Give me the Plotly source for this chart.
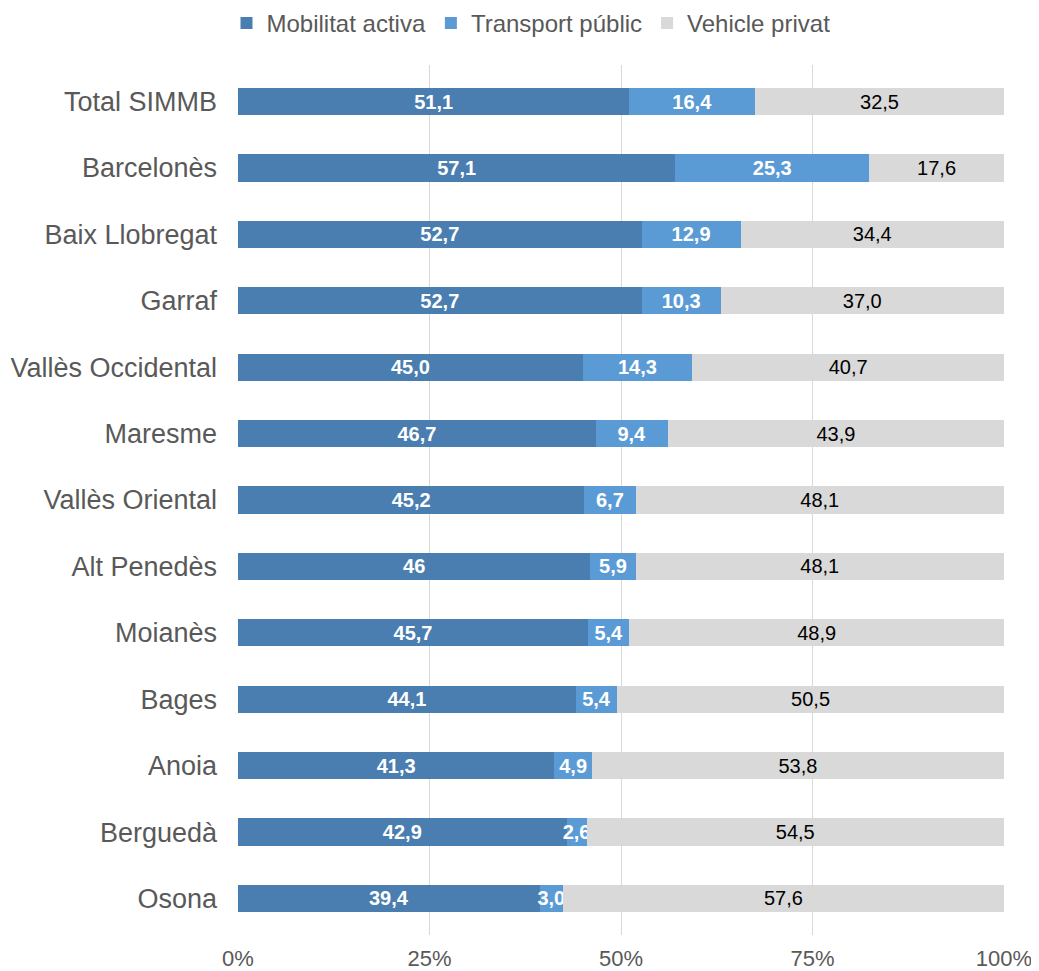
import plotly.graph_objects as go

categories = ["Total SIMMB", "Barcelonès", "Baix Llobregat", "Garraf", "Vallès Occidental",
              "Maresme", "Vallès Oriental", "Alt Penedès", "Moianès", "Bages", "Anoia",
              "Berguedà", "Osona"]
mobilitat_activa = [51.1, 57.1, 52.7, 52.7, 45.0, 46.7, 45.2, 46.0, 45.7, 44.1, 41.3, 42.9, 39.4]
transport_public = [16.4, 25.3, 12.9, 10.3, 14.3, 9.4, 6.7, 5.9, 5.4, 5.4, 4.9, 2.6, 3.0]
vehicle_privat = [32.5, 17.6, 34.4, 37.0, 40.7, 43.9, 48.1, 48.1, 48.9, 50.5, 53.8, 54.5, 57.6]
labels_activa = ["51,1", "57,1", "52,7", "52,7", "45,0", "46,7", "45,2", "46", "45,7", "44,1", "41,3", "42,9", "39,4"]
labels_public = ["16,4", "25,3", "12,9", "10,3", "14,3", "9,4", "6,7", "5,9", "5,4", "5,4", "4,9", "2,6", "3,0"]
labels_privat = ["32,5", "17,6", "34,4", "37,0", "40,7", "43,9", "48,1", "48,1", "48,9", "50,5", "53,8", "54,5", "57,6"]
x_ticks = [0, 25, 50, 75, 100]
x_tick_labels = ["0%", "25%", "50%", "75%", "100%"]

FONT = "Liberation Sans, Arial, sans-serif"

fig = go.Figure()
series = [
    ("Mobilitat activa", mobilitat_activa, labels_activa, "#4A7EB0", "white"),
    ("Transport públic", transport_public, labels_public, "#5B9BD5", "white"),
    ("Vehicle privat", vehicle_privat, labels_privat, "#D9D9D9", "black"),
]
for name, vals, labs, col, tcol in series:
    fig.add_trace(go.Bar(
        name=name, y=categories, x=vals, orientation="h",
        marker=dict(color=col, line=dict(width=0)),
        text=labs, textposition="inside", insidetextanchor="middle",
        textangle=0, constraintext="none",
        textfont=dict(family=FONT, size=20, color=tcol,
                      weight="bold" if tcol == "white" else "normal"),
        hoverinfo="skip",
    ))

# page body has an 8px margin, so the figure is sized/offset accordingly
fig.update_layout(
    barmode="stack",
    bargap=0.59,
    width=1031, height=963,
    margin=dict(l=230, r=35, t=57, b=36),
    paper_bgcolor="white", plot_bgcolor="white",
    font=dict(family=FONT, color="#595959"),
    legend=dict(orientation="h", x=0.3825, xanchor="center", xref="paper",
                y=0.984, yanchor="middle", yref="container",
                font=dict(size=24, color="#595959"),
                traceorder="normal", itemwidth=30),
    xaxis=dict(range=[0, 100], tickvals=x_ticks, ticktext=x_tick_labels,
               showgrid=True, gridcolor="#D9D9D9", gridwidth=1, zeroline=False,
               showline=False, tickfont=dict(size=22, color="#595959"), ticks="",
               ticklabelstandoff=8, automargin=False, fixedrange=True),
    yaxis=dict(type="category", categoryorder="array", categoryarray=categories,
               range=[len(categories) - 0.45, -0.55], showgrid=False, showline=False,
               ticks="", ticklen=0, tickfont=dict(size=27, color="#595959"),
               ticklabelstandoff=20, automargin=False, fixedrange=True),
)
fig.write_html("out.html")
